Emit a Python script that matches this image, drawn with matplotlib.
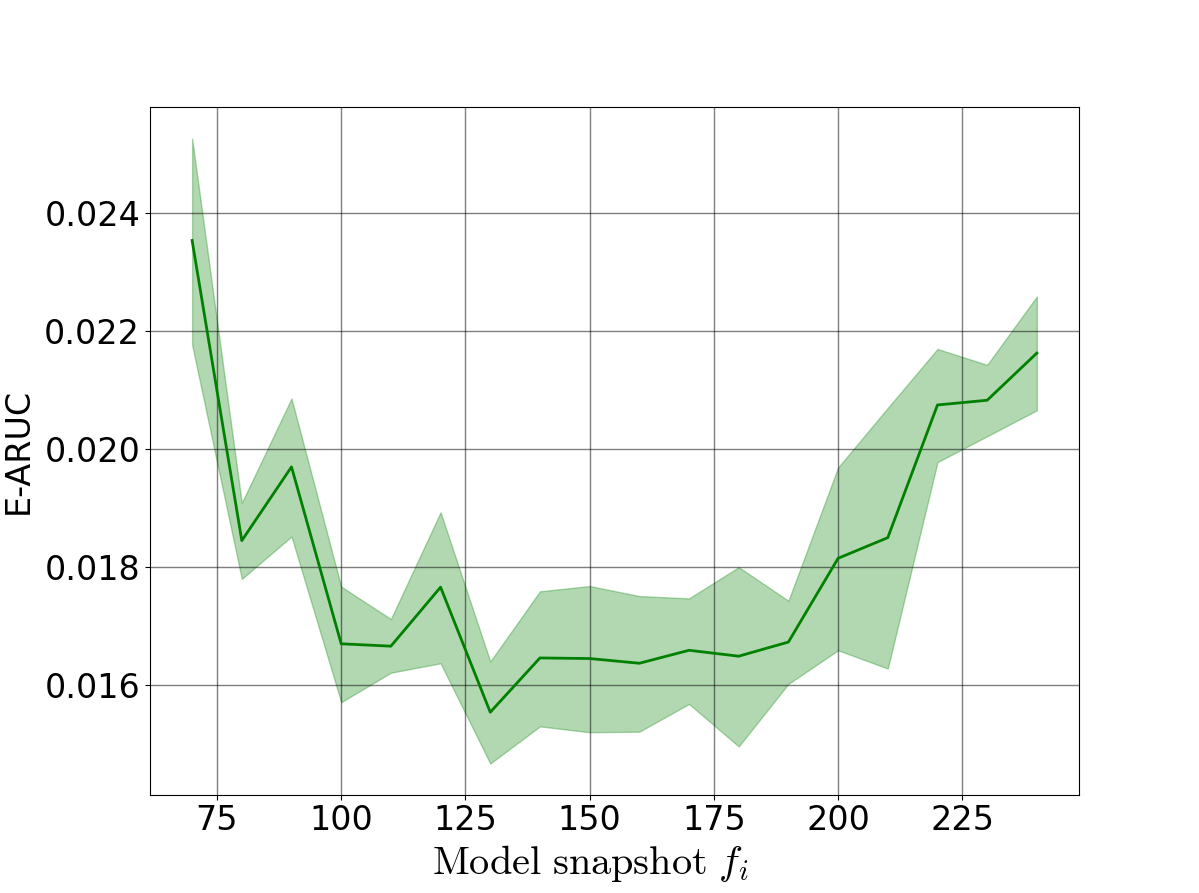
import matplotlib
matplotlib.use("Agg")
from matplotlib import pyplot as plt

plt.rcParams['mathtext.fontset'] = 'cm'

snapshots = [70, 80, 90, 100, 110, 120, 130, 140, 150, 160, 170, 180, 190, 200, 210, 220, 230, 240]
earuc_mean = [0.02354, 0.01845, 0.01970, 0.01670, 0.01666, 0.01766, 0.01554, 0.01646, 0.01645, 0.01637,
              0.01659, 0.01649, 0.01673, 0.01815, 0.01850, 0.02075, 0.02083, 0.02163]
earuc_upper = [0.02527, 0.01909, 0.02086, 0.01767, 0.01712, 0.01893, 0.01640, 0.01759, 0.01768, 0.01751,
               0.01747, 0.01800, 0.01743, 0.01969, 0.02070, 0.02170, 0.02143, 0.02259]
earuc_lower = [0.02177, 0.01780, 0.01852, 0.01571, 0.01621, 0.01637, 0.01467, 0.01530, 0.01520, 0.01521,
               0.01568, 0.01496, 0.01602, 0.01659, 0.01628, 0.01978, 0.02022, 0.02066]

fig = plt.figure(figsize=(11.99, 8.93), dpi=100)
ax = fig.add_subplot(111)

ax.fill_between(snapshots, earuc_lower, earuc_upper, color='green', alpha=0.3)
ax.plot(snapshots, earuc_mean, color='green', linewidth=2)

ax.grid(color='k', alpha=0.5, linewidth=1)
ax.tick_params(labelsize=24)
ax.set_ylabel('E-ARUC', fontsize=24, labelpad=7)
# latex-style x label, sits a bit left of centre in the original
ax.set_xlabel(r'$\mathrm{Model\ snapshot}\ f_i$', fontsize=29)
ax.xaxis.label.set_x(0.474)

fig.savefig('out.png', dpi=100)
